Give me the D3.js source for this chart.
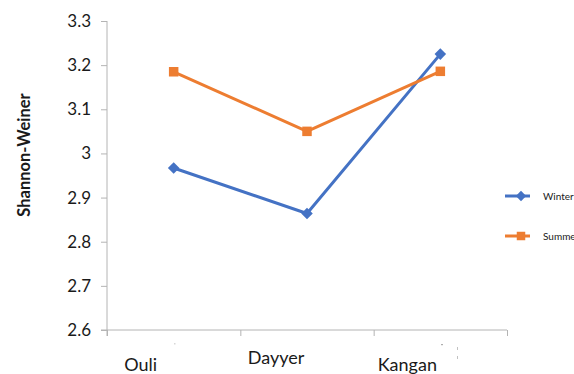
<!DOCTYPE html>
<html>
<head>
<meta charset="utf-8">
<script src="https://cdn.jsdelivr.net/npm/d3@7"></script>
<style>
  html, body { margin: 0; padding: 0; background: #fff; }
  svg { display: block; }
</style>
</head>
<body>
<svg id="chart" width="574" height="374"></svg>
<script>
// Shannon-Weiner diversity index by site and season
const categories = ["Ouli", "Dayyer", "Kangan"];
const winter = [2.967, 2.864, 3.225];
const summer = [3.185, 3.05, 3.186];
const yTicks = [2.6, 2.7, 2.8, 2.9, 3, 3.1, 3.2, 3.3];
const seriesNames = ["Winter", "Summer"];

const colors = { Winter: "#4472C4", Summer: "#ED7D31" };
const axisColor = "#b4b4b4";
const font = "Lato, 'Open Sans', sans-serif";

const svg = d3.select("#chart");
const plot = { left: 107, right: 507, top: 21, bottom: 330 };

const x = d3.scalePoint().domain(categories).range([plot.left, plot.right]).padding(0.5);
const y = d3.scaleLinear().domain([2.6, 3.3]).range([plot.bottom, plot.top]);
const xEdges = d3.scaleLinear().domain([0, categories.length]).range([plot.left, plot.right]);

// y axis
const yAxis = svg.append("g")
  .attr("transform", `translate(${plot.left},0)`)
  .call(d3.axisLeft(y).tickValues(yTicks).tickFormat(d => String(d)).tickSize(6).tickSizeOuter(0).tickPadding(10));
yAxis.select(".domain").attr("stroke", axisColor).attr("d", `M0,${plot.top}V${plot.bottom + 6}`);
yAxis.selectAll(".tick line").attr("stroke", axisColor);
yAxis.selectAll(".tick text").attr("fill", "#1a1a1a").style("font-family", font).style("font-size", "17px");

// x axis: tick marks at category boundaries
const xAxis = svg.append("g")
  .attr("transform", `translate(0,${plot.bottom})`)
  .call(d3.axisBottom(xEdges).tickValues(d3.range(categories.length + 1)).tickFormat("").tickSize(6).tickSizeOuter(0));
xAxis.select(".domain").attr("stroke", axisColor).attr("d", `M${plot.left - 6},0H${plot.right}`);
xAxis.selectAll(".tick line").attr("stroke", axisColor);

// category labels (offset below the axis)
const labelNudge = [{ dx: -33, y: 371 }, { dx: -31, y: 364 }, { dx: -33, y: 371 }];
svg.append("g").selectAll("text")
  .data(categories)
  .join("text")
  .attr("x", (d, i) => x(d) + labelNudge[i].dx)
  .attr("y", (d, i) => labelNudge[i].y)
  .attr("text-anchor", "middle")
  .attr("fill", "#1a1a1a")
  .style("font-family", font)
  .style("font-size", "18px")
  .text(d => d);

// y axis title
svg.append("text")
  .attr("transform", "translate(30,155) rotate(-90)")
  .attr("text-anchor", "middle")
  .attr("fill", "#1a1a1a")
  .style("font-family", font)
  .style("font-size", "16.5px")
  .style("font-weight", "bold")
  .text("Shannon-Weiner");

// series lines and markers
const line = d3.line().x((d, i) => x(categories[i])).y(d => y(d));
const seriesData = [
  { name: "Winter", values: winter, shape: d3.symbolDiamond2, size: 85 },
  { name: "Summer", values: summer, shape: d3.symbolSquare2, size: 115 }
];

seriesData.forEach(s => {
  svg.append("path")
    .attr("d", line(s.values))
    .attr("fill", "none")
    .attr("stroke", colors[s.name])
    .attr("stroke-width", 3)
    .attr("stroke-linejoin", "round");
});
seriesData.forEach(s => {
  svg.append("g").selectAll("path")
    .data(s.values)
    .join("path")
    .attr("transform", (d, i) => `translate(${x(categories[i])},${y(d)})`)
    .attr("d", d3.symbol().type(s.shape).size(s.size))
    .attr("fill", colors[s.name]);
});

// legend
const legend = svg.append("g");
seriesNames.forEach((name, i) => {
  const s = seriesData[i];
  const ly = 196 + i * 40;
  legend.append("line")
    .attr("x1", 505).attr("x2", 530).attr("y1", ly).attr("y2", ly)
    .attr("stroke", colors[name]).attr("stroke-width", 3);
  legend.append("path")
    .attr("transform", `translate(521,${ly})`)
    .attr("d", d3.symbol().type(s.shape).size(s.size * 0.8))
    .attr("fill", colors[name]);
  legend.append("text")
    .attr("x", 543).attr("y", ly + 3.5)
    .attr("fill", "#1a1a1a")
    .style("font-family", font)
    .style("font-size", "10px")
    .text(name);
});

// faint specks under the axis
const specks = svg.append("g").attr("fill", "#9a9a9a");
specks.append("rect").attr("x", 174).attr("y", 343).attr("width", 1.5).attr("height", 1.5).attr("opacity", 0.4);
specks.append("rect").attr("x", 441).attr("y", 344).attr("width", 2).attr("height", 1.2).attr("opacity", 0.8);
specks.append("rect").attr("x", 457).attr("y", 347).attr("width", 1).attr("height", 3).attr("opacity", 0.6);
specks.append("rect").attr("x", 457).attr("y", 356).attr("width", 1).attr("height", 3).attr("opacity", 0.6);
</script>
</body>
</html>
